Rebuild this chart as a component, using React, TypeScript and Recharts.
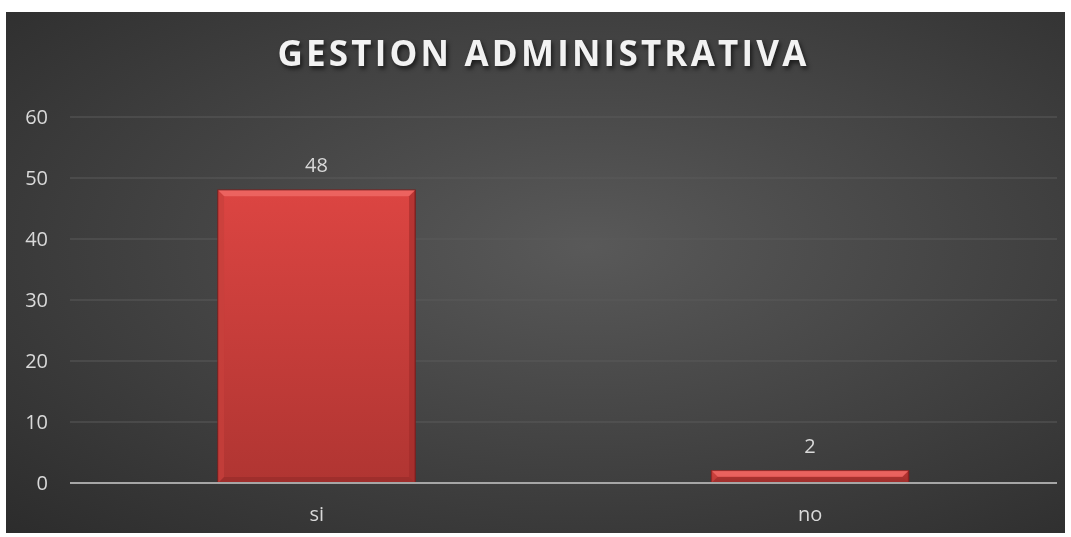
import React from "react";
import { Bar, BarChart, CartesianGrid, LabelList, XAxis, YAxis } from "recharts";

const categories = ["si", "no"];
const counts = [48, 2];
const yTicks = [0, 10, 20, 30, 40, 50, 60];

const data = categories.map((name, i) => ({ name, value: counts[i] }));

const font = "'Open Sans', 'DejaVu Sans', sans-serif";

// bar with a soft bevel like the spreadsheet style
function BevelBar(props: any) {
  const { x, y, width, height } = props;
  if (!height || height <= 0) return null;
  const b = Math.min(6, height / 2);
  return (
    <g>
      <rect x={x} y={y} width={width} height={height} fill="url(#barFill)" stroke="#7e1f1d" strokeWidth={1.5} />
      <polygon
        points={`${x},${y} ${x + width},${y} ${x + width - b},${y + b} ${x + b},${y + b}`}
        fill="#f06a66"
        opacity={0.8}
      />
      <polygon
        points={`${x},${y} ${x + b},${y + b} ${x + b},${y + height - b} ${x},${y + height}`}
        fill="#c8403c"
        opacity={0.7}
      />
      <polygon
        points={`${x + width},${y} ${x + width},${y + height} ${x + width - b},${y + height - b} ${x + width - b},${y + b}`}
        fill="#9e2c29"
        opacity={0.6}
      />
      <polygon
        points={`${x},${y + height} ${x + width},${y + height} ${x + width - b},${y + height - b} ${x + b},${y + height - b}`}
        fill="#8e2725"
        opacity={0.5}
      />
    </g>
  );
}

export default function App() {
  return (
    <div
      style={{
        position: "fixed",
        left: 6,
        top: 12,
        width: 1059,
        height: 521,
        background: "radial-gradient(ellipse at 55% 45%, #595959 0%, #454545 45%, #2c2c2c 100%)",
        fontFamily: font,
      }}
    >
      <div
        style={{
          position: "absolute",
          top: 17,
          left: 8,
          width: "100%",
          textAlign: "center",
          color: "#f2f2f2",
          fontSize: 35,
          fontWeight: 700,
          letterSpacing: 3.2,
          textShadow: "2px 3px 4px rgba(0,0,0,0.6)",
        }}
      >
        GESTION ADMINISTRATIVA
      </div>
      <BarChart
        width={1059}
        height={521}
        data={data}
        margin={{ top: 105, right: 8, bottom: 20, left: 0 }}
        barCategoryGap="30%"
      >
        <defs>
          <linearGradient id="barFill" x1="0" y1="0" x2="0" y2="1">
            <stop offset="0%" stopColor="#dc4542" />
            <stop offset="100%" stopColor="#b03532" />
          </linearGradient>
        </defs>
        <CartesianGrid vertical={false} stroke="#5a5a5a" strokeWidth={1} />
        <XAxis
          dataKey="name"
          axisLine={{ stroke: "#a6a6a6", strokeWidth: 2 }}
          tickLine={false}
          tickSize={0}
          tickMargin={24}
          height={30}
          tick={{ fill: "#d9d9d9", fontSize: 20, fontFamily: font }}
        />
        <YAxis
          domain={[0, 60]}
          ticks={yTicks}
          axisLine={false}
          tickLine={false}
          tickSize={0}
          tickMargin={22}
          width={64}
          tick={{ fill: "#d9d9d9", fontSize: 20, fontFamily: font }}
        />
        <Bar dataKey="value" shape={BevelBar} isAnimationActive={false}>
          <LabelList dataKey="value" position="top" offset={18} fill="#d9d9d9" fontSize={20} fontFamily={font} />
        </Bar>
      </BarChart>
    </div>
  );
}
